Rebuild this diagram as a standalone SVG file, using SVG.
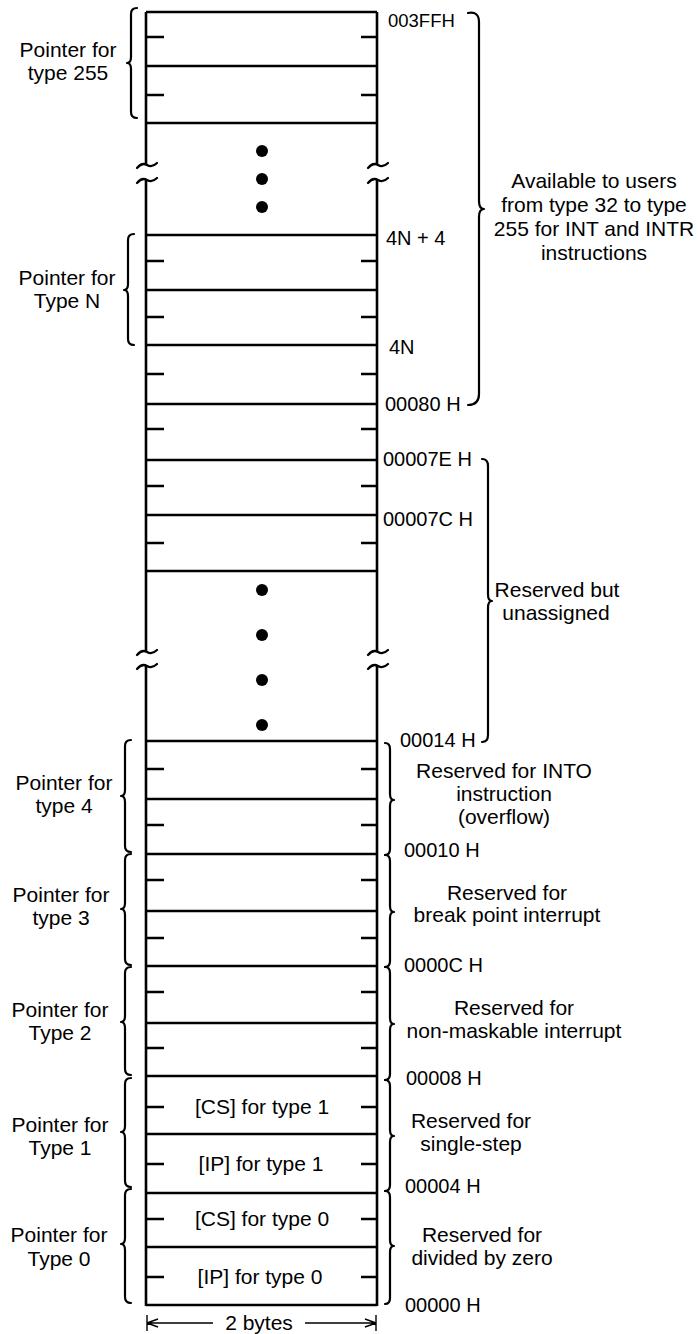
<svg xmlns="http://www.w3.org/2000/svg" width="698" height="1334" viewBox="0 0 698 1334">
<style>
.ln{stroke:#000;stroke-width:2.6;fill:none;stroke-linecap:butt}
.tk{stroke:#000;stroke-width:2.6;fill:none}
.br{stroke:#000;stroke-width:2.2;fill:none;stroke-linejoin:round;stroke-linecap:round}
.sq{stroke:#000;stroke-width:2.2;fill:none;stroke-linecap:round}
.t{font-family:"Liberation Sans",Arial,sans-serif;font-size:21px;fill:#000}
.a{font-family:"Liberation Sans",Arial,sans-serif;font-size:20px;fill:#000}
.c{text-anchor:middle}
.thin{stroke:#000;stroke-width:1.4;fill:none}
</style>
<rect width="698" height="1334" fill="#fff"/>

<g id="memory">
  <!-- vertical sides -->
  <path class="ln" d="M146,12 V165 M146,180 V652 M146,666 V1306 M377,12 V165 M377,180 V652 M377,666 V1306"/>
  <!-- horizontal lines -->
  <path class="ln" d="M146,12 H377 M146,66 H377 M146,123 H377 M146,235 H377 M146,290 H377 M146,345 H377 M146,404 H377 M146,460 H377 M146,515 H377 M146,571 H377 M146,741 H377 M146,799 H377 M146,854 H377 M146,911 H377 M146,966 H377 M146,1023 H377 M146,1076 H377 M146,1134 H377 M146,1193 H377 M146,1247 H377 M146,1305 H377"/>
  <!-- ticks -->
  <path class="tk" d="M146,37 H164 M361,37 H377 M146,95 H164 M361,95 H377 M146,261 H164 M361,261 H377 M146,317 H164 M361,317 H377 M146,374 H164 M361,374 H377 M146,429 H164 M361,429 H377 M146,486 H164 M361,486 H377 M146,543 H164 M361,543 H377 M146,769 H164 M361,769 H377 M146,825 H164 M361,825 H377 M146,880 H164 M361,880 H377 M146,938 H164 M361,938 H377 M146,992 H164 M361,992 H377 M146,1048 H164 M361,1048 H377 M146,1107 H164 M361,1107 H377 M146,1164 H164 M361,1164 H377 M146,1219 H164 M361,1219 H377 M146,1277 H164 M361,1277 H377"/>
  <!-- break marks -->
  <path class="sq" d="M137,168 Q142,162 147,165 Q152,168 157,163 M137,183 Q142,177 147,180 Q152,183 157,178 M368,168 Q373,162 378,165 Q383,168 388,163 M368,183 Q373,177 378,180 Q383,183 388,178"/>
  <path class="sq" d="M137,655 Q142,649 147,652 Q152,655 157,650 M137,669 Q142,663 147,666 Q152,669 157,664 M368,655 Q373,649 378,652 Q383,655 388,650 M368,669 Q373,663 378,666 Q383,669 388,664"/>
  <!-- dots -->
  <g fill="#000">
    <circle cx="262" cy="151" r="6"/><circle cx="262" cy="179" r="6"/><circle cx="262" cy="207" r="6"/>
    <circle cx="262" cy="590" r="6"/><circle cx="262" cy="635" r="6"/><circle cx="262" cy="680" r="6"/><circle cx="262" cy="725" r="6"/>
  </g>
  <!-- cell texts -->
  <text class="t c" x="262" y="1114">[CS] for type 1</text>
  <text class="t c" x="261" y="1171">[IP] for type 1</text>
  <text class="t c" x="262" y="1226">[CS] for type 0</text>
  <text class="t c" x="260" y="1284">[IP] for type 0</text>
</g>

<g id="addresses">
  <text class="a" x="388" y="27" style="font-size:18.5px">003FFH</text>
  <text class="a" x="386" y="245">4N + 4</text>
  <text class="a" x="389" y="354">4N</text>
  <text class="a" x="385" y="411">00080 H</text>
  <text class="a" x="383" y="466">00007E H</text>
  <text class="a" x="383" y="526">00007C H</text>
  <text class="a" x="400" y="747">00014 H</text>
  <text class="a" x="404" y="857">00010 H</text>
  <text class="a" x="404" y="972">0000C H</text>
  <text class="a" x="406" y="1085">00008 H</text>
  <text class="a" x="405" y="1193">00004 H</text>
  <text class="a" x="405" y="1312">00000 H</text>
</g>

<g id="left-braces">
  <path class="br" d="M137,8 Q131,8 131,14 V57 Q131,63 127,63 Q131,63 131,69 V112 Q131,118 137,118"/>
  <path class="br" d="M134,234 Q128,234 128,240 V284 Q128,290 124,290 Q128,290 128,296 V339 Q128,345 134,345"/>
  <path class="br" d="M131,740 Q125,740 125,746 V790 Q125,796 121,796 Q125,796 125,802 V846 Q125,852 131,852"/>
  <path class="br" d="M131,854 Q125,854 125,860 V903 Q125,909 121,909 Q125,909 125,915 V959 Q125,965 131,965"/>
  <path class="br" d="M131,967 Q125,967 125,973 V1016 Q125,1022 121,1022 Q125,1022 125,1028 V1069 Q125,1075 131,1075"/>
  <path class="br" d="M131,1078 Q125,1078 125,1084 V1126 Q125,1132 121,1132 Q125,1132 125,1138 V1181 Q125,1187 131,1187"/>
  <path class="br" d="M131,1189 Q125,1189 125,1195 V1238 Q125,1244 121,1244 Q125,1244 125,1250 V1297 Q125,1303 131,1303"/>
</g>

<g id="left-labels">
  <text class="t c" x="68" y="57">Pointer for</text><text class="t c" x="68" y="80">type 255</text>
  <text class="t c" x="67" y="285">Pointer for</text><text class="t c" x="67" y="308">Type N</text>
  <text class="t c" x="64" y="790">Pointer for</text><text class="t c" x="64" y="813">type 4</text>
  <text class="t c" x="61" y="902">Pointer for</text><text class="t c" x="61" y="925">type 3</text>
  <text class="t c" x="60" y="1017">Pointer for</text><text class="t c" x="60" y="1040">Type 2</text>
  <text class="t c" x="60" y="1132">Pointer for</text><text class="t c" x="60" y="1155">Type 1</text>
  <text class="t c" x="59" y="1242">Pointer for</text><text class="t c" x="59" y="1266">Type 0</text>
</g>

<g id="right-braces">
  <path class="br" d="M468,13 Q479,11 479,22 V201 Q479,209 484,209 Q479,209 479,217 V394 Q479,405 468,405"/>
  <path class="br" d="M482,459 Q488,459 488,466 V594 Q488,601 492,601 Q488,601 488,608 V735 Q488,742 482,742"/>
  <path class="br" d="M385,743 Q390,743 390,749 V794 Q390,800 394,800 Q390,800 390,806 V849 Q390,855 385,855"/>
  <path class="br" d="M385,855 Q390,855 390,861 V906 Q390,912 394,912 Q390,912 390,918 V961 Q390,967 385,967"/>
  <path class="br" d="M385,967 Q390,967 390,973 V1018 Q390,1024 394,1024 Q390,1024 390,1030 V1074 Q390,1080 385,1080"/>
  <path class="br" d="M385,1080 Q390,1080 390,1086 V1130 Q390,1136 394,1136 Q390,1136 390,1142 V1185 Q390,1191 385,1191"/>
  <path class="br" d="M385,1191 Q390,1191 390,1197 V1240 Q390,1246 394,1246 Q390,1246 390,1252 V1298 Q390,1304 385,1304"/>
</g>

<g id="right-labels">
  <text class="t c" x="594" y="188">Available to users</text>
  <text class="t c" x="594" y="212">from type 32 to type</text>
  <text class="t c" x="594" y="236">255 for INT and INTR</text>
  <text class="t c" x="594" y="260">instructions</text>
  <text class="t c" x="557" y="597">Reserved but</text>
  <text class="t c" x="556" y="620">unassigned</text>
  <text class="t c" x="504" y="778">Reserved for INTO</text>
  <text class="t c" x="504" y="801">instruction</text>
  <text class="t c" x="504" y="824">(overflow)</text>
  <text class="t c" x="507" y="900">Reserved for</text>
  <text class="t c" x="507" y="922">break point interrupt</text>
  <text class="t c" x="514" y="1015">Reserved for</text>
  <text class="t c" x="514" y="1038">non-maskable interrupt</text>
  <text class="t c" x="471" y="1128">Reserved for</text>
  <text class="t c" x="471" y="1151">single-step</text>
  <text class="t c" x="482" y="1242">Reserved for</text>
  <text class="t c" x="482" y="1265">divided by zero</text>
</g>

<g id="width-arrow">
  <path class="thin" d="M147,1315 V1331 M147,1323 H213 M147,1323 L158,1319 M147,1323 L158,1327 M305,1323 H376 M376,1315 V1331 M376,1323 L365,1319 M376,1323 L365,1327"/>
  <text class="t c" x="259" y="1330">2 bytes</text>
</g>
</svg>
